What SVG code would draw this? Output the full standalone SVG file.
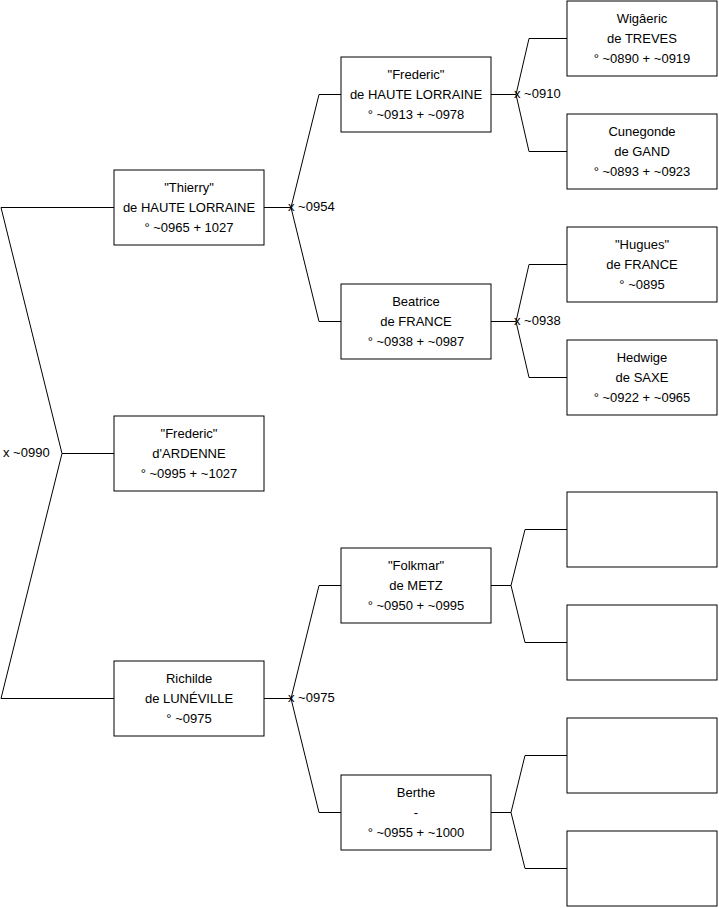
<svg xmlns="http://www.w3.org/2000/svg" width="719" height="908" viewBox="0 0 719 908">
<style>
.box{fill:#fff;stroke:#000;stroke-width:1}
.t{font-family:"Liberation Sans",Arial,sans-serif;font-size:13px;fill:#000;text-anchor:middle}
.m{font-family:"Liberation Sans",Arial,sans-serif;font-size:13px;fill:#000}
.c{fill:none;stroke:#000;stroke-width:1}
</style>
<rect width="719" height="908" fill="#fff"/>
<g id="connectors">
<polyline class="c" points="114,207.5 1,207.5 62,453.5 1,698.5 114,698.5"/>
<line class="c" x1="62" y1="453.5" x2="114" y2="453.5"/>
<polyline class="c" points="264,207.5 291,207.5"/>
<polyline class="c" points="341,94.5 319,94.5 291,207.5 319,321.5 341,321.5"/>
<polyline class="c" points="264,698.5 291,698.5"/>
<polyline class="c" points="341,585.5 319,585.5 291,698.5 319,812.5 341,812.5"/>
<polyline class="c" points="491,94.5 516,94.5"/>
<polyline class="c" points="567,38.5 529,38.5 516,94.5 529,151.5 567,151.5"/>
<polyline class="c" points="491,321.5 516,321.5"/>
<polyline class="c" points="567,264.5 529,264.5 516,321.5 529,377.5 567,377.5"/>
<polyline class="c" points="491,585.5 511,585.5"/>
<polyline class="c" points="567,529.5 525,529.5 511,585.5 525,642.5 567,642.5"/>
<polyline class="c" points="491,812.5 511,812.5"/>
<polyline class="c" points="567,755.5 525,755.5 511,812.5 525,868.5 567,868.5"/>
<text class="m" x="3" y="457">x ~0990</text>
<text class="m" x="288" y="211">x ~0954</text>
<text class="m" x="288" y="702">x ~0975</text>
<text class="m" x="514" y="97.5">x ~0910</text>
<text class="m" x="514" y="324.5">x ~0938</text>
</g>
<g id="thierry">
<rect class="box" x="114" y="170" width="150" height="75"/>
<text class="t" x="189" y="191.5">"Thierry"</text>
<text class="t" x="189" y="211.5">de HAUTE LORRAINE</text>
<text class="t" x="189" y="231.5">° ~0965 + 1027</text>
</g>
<g id="frederic-ardenne">
<rect class="box" x="114" y="416" width="150" height="75"/>
<text class="t" x="189" y="437.5">"Frederic"</text>
<text class="t" x="189" y="457.5">d'ARDENNE</text>
<text class="t" x="189" y="477.5">° ~0995 + ~1027</text>
</g>
<g id="richilde">
<rect class="box" x="114" y="661" width="150" height="75"/>
<text class="t" x="189" y="682.5">Richilde</text>
<text class="t" x="189" y="702.5">de LUNÉVILLE</text>
<text class="t" x="189" y="722.5">° ~0975</text>
</g>
<g id="frederic-hl">
<rect class="box" x="341" y="57" width="150" height="75"/>
<text class="t" x="416" y="78.5">"Frederic"</text>
<text class="t" x="416" y="98.5">de HAUTE LORRAINE</text>
<text class="t" x="416" y="118.5">° ~0913 + ~0978</text>
</g>
<g id="beatrice">
<rect class="box" x="341" y="284" width="150" height="75"/>
<text class="t" x="416" y="305.5">Beatrice</text>
<text class="t" x="416" y="325.5">de FRANCE</text>
<text class="t" x="416" y="345.5">° ~0938 + ~0987</text>
</g>
<g id="folkmar">
<rect class="box" x="341" y="548" width="150" height="75"/>
<text class="t" x="416" y="569.5">"Folkmar"</text>
<text class="t" x="416" y="589.5">de METZ</text>
<text class="t" x="416" y="609.5">° ~0950 + ~0995</text>
</g>
<g id="berthe">
<rect class="box" x="341" y="775" width="150" height="75"/>
<text class="t" x="416" y="796.5">Berthe</text>
<text class="t" x="416" y="816.5">-</text>
<text class="t" x="416" y="836.5">° ~0955 + ~1000</text>
</g>
<g id="wigaeric">
<rect class="box" x="567" y="1" width="150" height="75"/>
<text class="t" x="642" y="22.5">Wigâeric</text>
<text class="t" x="642" y="42.5">de TREVES</text>
<text class="t" x="642" y="62.5">° ~0890 + ~0919</text>
</g>
<g id="cunegonde">
<rect class="box" x="567" y="114" width="150" height="75"/>
<text class="t" x="642" y="135.5">Cunegonde</text>
<text class="t" x="642" y="155.5">de GAND</text>
<text class="t" x="642" y="175.5">° ~0893 + ~0923</text>
</g>
<g id="hugues">
<rect class="box" x="567" y="227" width="150" height="75"/>
<text class="t" x="642" y="248.5">"Hugues"</text>
<text class="t" x="642" y="268.5">de FRANCE</text>
<text class="t" x="642" y="288.5">° ~0895</text>
</g>
<g id="hedwige">
<rect class="box" x="567" y="340" width="150" height="75"/>
<text class="t" x="642" y="361.5">Hedwige</text>
<text class="t" x="642" y="381.5">de SAXE</text>
<text class="t" x="642" y="401.5">° ~0922 + ~0965</text>
</g>
<g id="empty1"><rect class="box" x="567" y="492" width="150" height="75"/></g>
<g id="empty2"><rect class="box" x="567" y="605" width="150" height="75"/></g>
<g id="empty3"><rect class="box" x="567" y="718" width="150" height="75"/></g>
<g id="empty4"><rect class="box" x="567" y="831" width="150" height="75"/></g>
</svg>
